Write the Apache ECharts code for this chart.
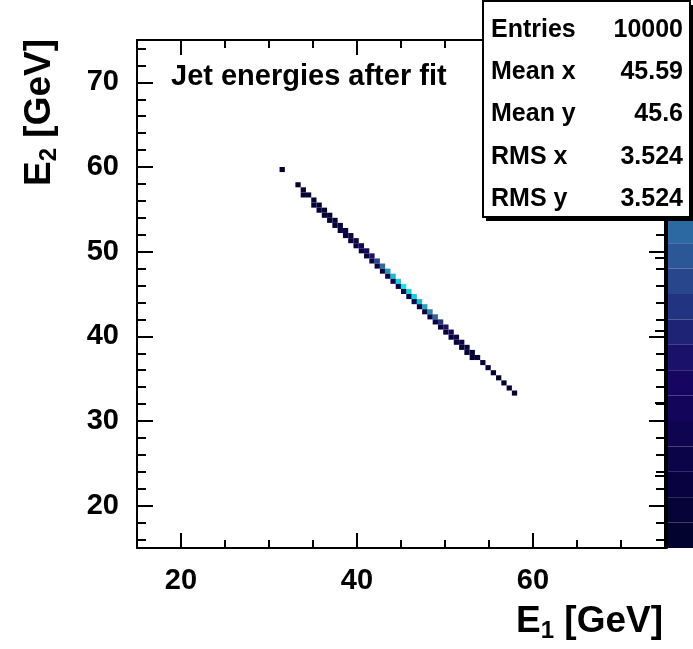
<!DOCTYPE html>
<html><head><meta charset="utf-8">
<script src="https://cdn.jsdelivr.net/npm/echarts@6/dist/echarts.min.js"></script>
<style>html,body{margin:0;padding:0;background:#fff}#c{width:693px;height:649px}</style>
</head><body><div id="c"></div>
<script>
// ---- data: 2D histogram cells (bin centres in GeV, bin width 0.6) ----
const e1 = [
  31.5, 33.3, 33.9, 34.5, 35.1, 35.7, 36.3, 36.9, 37.5, 38.1, 38.7, 39.3, 39.9, 40.5, 41.1, 41.7,
  42.3, 42.9, 43.5, 44.1, 44.7, 45.3, 45.9, 46.5, 47.1, 47.7, 48.3, 48.9, 49.5, 50.1, 50.7, 51.3,
  51.9, 52.5, 53.1, 53.7, 54.3, 54.9, 55.5, 56.1, 56.7, 57.3, 57.9,
  33.9, 35.1, 35.7, 36.3, 36.9, 37.5, 38.1, 38.7, 39.3, 39.9, 40.5, 41.1, 41.7, 42.3, 42.9, 43.5,
  44.1, 44.7, 45.3, 45.9, 46.5, 47.1, 47.7, 48.3, 48.9, 49.5, 50.1, 50.7, 51.3, 51.9, 52.5, 53.1
];
const e2 = [
  59.7, 57.9, 57.3, 56.7, 56.1, 55.5, 54.9, 54.3, 53.7, 53.1, 52.5, 51.9, 51.3, 50.7, 50.1, 49.5,
  48.9, 48.3, 47.7, 47.1, 46.5, 45.9, 45.3, 44.7, 44.1, 43.5, 42.9, 42.3, 41.7, 41.1, 40.5, 39.9,
  39.3, 38.7, 38.1, 37.5, 36.9, 36.3, 35.7, 35.1, 34.5, 33.9, 33.3,
  56.7, 55.5, 54.9, 54.3, 53.7, 53.1, 52.5, 51.9, 51.3, 50.7, 50.1, 49.5, 48.9, 48.3, 47.7, 47.1,
  46.5, 45.9, 45.3, 44.7, 44.1, 43.5, 42.9, 42.3, 41.7, 41.1, 40.5, 39.9, 39.3, 38.7, 38.1, 37.5
];
const counts = [
  20, 30, 35, 40, 50, 55, 50, 65, 75, 90, 105, 125, 150, 175, 210, 270,
  350, 440, 530, 600, 650, 670, 660, 650, 620, 580, 500, 420, 330, 260, 195, 145,
  110, 90, 70, 55, 45, 35, 30, 25, 20, 15, 12,
  12, 30, 35, 25, 45, 35, 55, 50, 60, 65, 70, 80, 85, 95, 100, 110,
  115, 120, 120, 115, 110, 100, 95, 85, 80, 70, 65, 55, 50, 40, 35, 25
];
const binWidth = 0.6;

const xMajorTicks = [20, 40, 60];
const xMinorTicks = [25, 30, 35, 45, 50, 55, 65, 70];
const yMajorTicks = [20, 30, 40, 50, 60, 70];
const yMinorTicks = [16, 18, 22, 24, 26, 28, 32, 34, 36, 38, 42, 44, 46, 48, 52, 54, 56, 58, 62, 64, 66, 68, 72, 74];
const zTicks = [0, 100, 200, 300, 400, 500, 600, 700];
const zMax = 700;
const zLevels = 20;

const titleText = 'Jet energies after fit';
const statsLabels = ['Entries', 'Mean x', 'Mean y', 'RMS x', 'RMS y'];
const statsValues = ['10000', '45.59', '45.6', '3.524', '3.524'];

// ---- style ----
const FONT = "'Liberation Sans', Arial, Helvetica, sans-serif";
const GL = 137, GT = 40, GW = 528, GH = 508;

// ROOT "deep sea" palette
const pStops = [0.00, 0.34, 0.61, 0.84, 1.00];
const pR = [0.00, 0.09, 0.18, 0.09, 0.00];
const pG = [0.01, 0.02, 0.39, 0.68, 0.97];
const pB = [0.17, 0.39, 0.62, 0.79, 0.97];
function pal(f) {
  let k = 0;
  while (k < pStops.length - 2 && f > pStops[k + 1]) k++;
  const t = (f - pStops[k]) / (pStops[k + 1] - pStops[k]);
  const c = a => Math.round(255 * (a[k] + t * (a[k + 1] - a[k])));
  return 'rgb(' + c(pR) + ',' + c(pG) + ',' + c(pB) + ')';
}
const pieces = [];
for (let k = 0; k < zLevels; k++) {
  pieces.push({ gte: k * zMax / zLevels, lt: (k + 1) * zMax / zLevels, color: pal((k + 0.5) / zLevels) });
}

const data = e1.map((x, i) => [x, e2[i], counts[i]]);

const axisLine = { show: true, lineStyle: { color: '#000', width: 2 } };
function ax(pos, ticks, len, labels) {
  return {
    type: 'value', gridIndex: 0, min: 15, max: 75, position: pos,
    axisLine: labels !== null ? axisLine : { show: false },
    axisTick: { show: true, inside: true, length: len, customValues: ticks, lineStyle: { color: '#000', width: 2 } },
    axisLabel: labels ? { show: true, customValues: labels, color: '#000', fontSize: 29, fontWeight: 'bold', fontFamily: FONT, margin: 18 } : { show: false },
    splitLine: { show: false }, minorTick: { show: false }
  };
}

const axTitleRich = {
  b: { fontSize: 37, fontWeight: 'bold', fontFamily: FONT, fill: '#000', color: '#000', lineHeight: 42, verticalAlign: 'middle' },
  s: { fontSize: 24, fontWeight: 'bold', fontFamily: FONT, fill: '#000', color: '#000', lineHeight: 16, verticalAlign: 'bottom' }
};

const statsEls = [
  { type: 'rect', z: 100, shape: { x: 486, y: 5, width: 210, height: 216 }, style: { fill: '#000' } },
  { type: 'rect', z: 101, shape: { x: 483, y: 1, width: 207, height: 216 }, style: { fill: '#fff', stroke: '#000', lineWidth: 2 } }
];
statsLabels.forEach((t, i) => {
  statsEls.push({ type: 'text', z: 102, x: 491, y: 30 + i * 42.3, style: { text: t, fill: '#000', font: 'bold 25px ' + FONT, align: 'left', verticalAlign: 'middle' } });
  statsEls.push({ type: 'text', z: 102, x: 683, y: 30 + i * 42.3, style: { text: statsValues[i], fill: '#000', font: 'bold 25px ' + FONT, align: 'right', verticalAlign: 'middle' } });
});

const chart = echarts.init(document.getElementById('c'), null, { renderer: 'canvas' });
chart.setOption({
  animation: false,
  backgroundColor: '#fff',
  grid: [
    { left: GL, top: GT, width: GW, height: GH, containLabel: false, outerBoundsMode: 'none' },
    { left: 667, top: GT, width: 28, height: GH, containLabel: false, outerBoundsMode: 'none' }
  ],
  xAxis: [
    ax('bottom', xMajorTicks, 15, xMajorTicks),
    ax('bottom', xMinorTicks, 8, null),
    ax('top', xMajorTicks, 15, false),
    ax('top', xMinorTicks, 8, null),
    { type: 'value', gridIndex: 1, show: false, min: 0, max: 1 }
  ],
  yAxis: [
    ax('left', yMajorTicks, 16, yMajorTicks),
    ax('left', yMinorTicks, 9, null),
    ax('right', yMajorTicks, 16, false),
    ax('right', yMinorTicks, 9, null),
    {
      type: 'value', gridIndex: 1, position: 'right', min: 0, max: zMax, z: 10,
      axisLine: { show: true, lineStyle: { color: '#000', width: 2 } },
      axisTick: { show: true, inside: true, length: 12, customValues: zTicks, lineStyle: { color: '#000', width: 2 } },
      axisLabel: { show: false }, splitLine: { show: false }
    }
  ],
  visualMap: {
    type: 'piecewise', seriesIndex: 0, dimension: 2, pieces: pieces,
    orient: 'vertical', left: 667, top: GT, itemWidth: 30, itemHeight: GH / zLevels, itemGap: 0,
    itemSymbol: 'rect', showLabel: false, selectedMode: false, hoverLink: false, padding: 0, textGap: 0
  },
  graphic: [
    { type: 'text', z: 50, x: 171, y: 77, style: { text: titleText, fill: '#000', font: 'bold 29px ' + FONT, align: 'left', verticalAlign: 'middle' } },
    { type: 'text', z: 50, x: 663, y: 622, style: { text: '{b|E}{s|1}{b| [GeV]}', rich: axTitleRich, align: 'right', verticalAlign: 'middle' } },
    { type: 'text', z: 50, x: 40, y: 39, rotation: Math.PI / 2, style: { text: '{b|E}{s|2}{b| [GeV]}', rich: axTitleRich, align: 'right', verticalAlign: 'middle' } }
  ].concat(statsEls),
  series: [{
    type: 'custom', coordinateSystem: 'cartesian2d', xAxisIndex: 0, yAxisIndex: 0,
    dimensions: ['e1', 'e2', 'count'], encode: { x: 0, y: 1 }, data: data, clip: true,
    renderItem: function (params, api) {
      const xc = api.value(0), yc = api.value(1);
      const a = api.coord([xc - binWidth / 2, yc + binWidth / 2]);
      const b = api.coord([xc + binWidth / 2, yc - binWidth / 2]);
      return { type: 'rect', shape: { x: a[0], y: a[1], width: b[0] - a[0], height: b[1] - a[1] }, style: { fill: api.visual('color') } };
    }
  }]
});
</script></body></html>
